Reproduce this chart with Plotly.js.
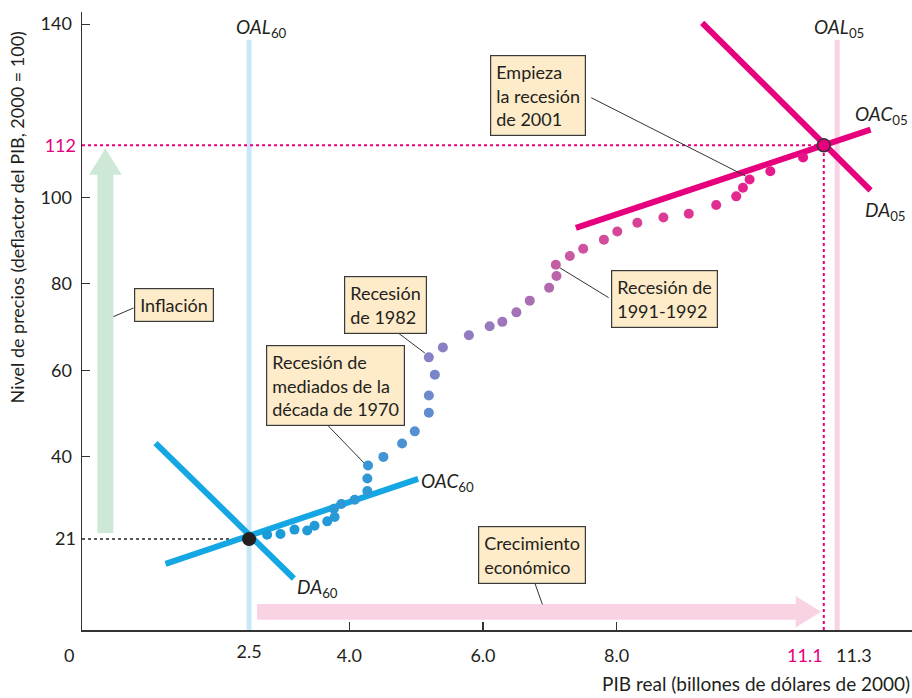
<!DOCTYPE html>
<html>
<head>
<meta charset="utf-8">
<script src="https://cdn.plot.ly/plotly-3.0.1.min.js"></script>
<style>html,body{margin:0;padding:0;background:#fff;}#chart{width:912px;height:698px;}</style>
</head>
<body>
<div id="chart"></div>
<script>
// ---- Data ----
// Path of the economy, real GDP (trillions of 2000 dollars) vs GDP deflator
var pathX = [2.77,2.97,3.18,3.37,3.48,3.67,3.78,3.77,3.88,4.08,4.27,4.27,4.28,4.51,4.79,4.98,5.19,5.19,5.28,5.19,5.40,5.79,6.10,6.29,6.50,6.70,6.99,7.10,7.09,7.30,7.50,7.81,8.01,8.31,8.70,9.08,9.49,9.79,9.89,9.99,10.30,10.79];
var pathY = [22.0,22.2,23.2,23.0,24.1,25.1,26.1,28.0,29.1,30.1,32.1,35.0,38.0,40.0,43.1,45.9,50.2,54.2,59.0,63.0,65.3,68.1,70.2,71.2,73.4,76.1,79.1,81.8,84.4,86.4,88.1,90.2,92.1,94.1,95.3,96.2,98.2,100.2,102.2,104.1,106.0,109.2];
var pathOrder = pathX.map(function(_, i){ return i; });

var start60 = {x: [2.5], y: [21]};
var end05 = {x: [11.1], y: [112]};

var da60X = [1.10, 3.17],  da60Y = [43.2, 11.9];
var oac60X = [1.25, 5.03], oac60Y = [15.3, 34.9];
var da05X = [9.28, 11.80], da05Y = [140.3, 101.6];
var oac05X = [7.39, 11.80], oac05Y = [92.9, 115.6];
var oal60X = [2.5, 2.5],   oal60Y = [0, 136.4];
var oal05X = [11.3, 11.3], oal05Y = [0, 136.4];

var xTickVals = [4, 6, 8], xTickText = ['4.0', '6.0', '8.0'];
var xSpecialVals = [2.5], xSpecialText = ['2.5'];
var yTickVals = [40, 60, 80, 100, 140], yTickText = ['40', '60', '80', '100', '140'];
var ySpecialVals = [21, 112], ySpecialText = ['21', '<span style="color:#e6007e">112</span>'];

// ---- Styles ----
var FONT = 'Lato, "Open Sans", sans-serif';
var TXT = '#231f20';
var BLUE = '#14a7e3';
var MAG = '#e6007e';
var X_MAX = 12.42, Y_MAX = 142.8;

var traces = [
  {x: oal60X, y: oal60Y, mode: 'lines', line: {color: '#c8e8f8', width: 5}, hoverinfo: 'skip'},
  {x: oal05X, y: oal05Y, mode: 'lines', line: {color: '#f9d3e4', width: 5}, hoverinfo: 'skip'},
  {x: [0, start60.x[0]], y: [start60.y[0], start60.y[0]], mode: 'lines', line: {color: '#222', width: 1.5, dash: 'dot'}, hoverinfo: 'skip'},
  {x: [0, end05.x[0]], y: [end05.y[0], end05.y[0]], mode: 'lines', line: {color: MAG, width: 2, dash: 'dot'}, hoverinfo: 'skip'},
  {x: [end05.x[0], end05.x[0]], y: [0, end05.y[0]], mode: 'lines', line: {color: MAG, width: 2, dash: 'dot'}, hoverinfo: 'skip'},
  {x: da60X, y: da60Y, mode: 'lines', line: {color: BLUE, width: 6}},
  {x: oac60X, y: oac60Y, mode: 'lines', line: {color: BLUE, width: 6}},
  {x: da05X, y: da05Y, mode: 'lines', line: {color: MAG, width: 6}},
  {x: oac05X, y: oac05Y, mode: 'lines', line: {color: MAG, width: 6}},
  {x: pathX, y: pathY, mode: 'markers',
   marker: {size: 10, color: pathOrder, cmin: 0, cmax: pathX.length - 1,
     colorscale: [[0,'#1a9bd9'],[0.28,'#3497d6'],[0.38,'#5a8fd0'],[0.46,'#8482c6'],[0.55,'#9a78bd'],[0.63,'#b06aaf'],[0.7,'#c95aa3'],[0.8,'#d84297'],[0.9,'#e32a8f'],[1,'#e8158a']],
     line: {width: 0}}},
  {x: start60.x, y: start60.y, mode: 'markers', marker: {size: 14, color: '#231f20'}},
  {x: end05.x, y: end05.y, mode: 'markers', marker: {size: 13, color: MAG, line: {color: '#333', width: 1.5}}},
  {x: [null], y: [null], xaxis: 'x2', yaxis: 'y2', mode: 'markers', hoverinfo: 'skip'}
];

// ---- Decorative arrows (shapes) ----
var infl = {cx: 0.35, y0: 22.4, yHead: 105.2, yTip: 111.3, half: 0.12, headHalf: 0.243};
var grow = {x0: 2.62, xHead: 10.68, xTip: 11.06, cy: 4.2, half: 1.81, headHalf: 3.65};
function p(x, y){ return x + ',' + y; }
var inflPath = 'M' + p(infl.cx - infl.half, infl.y0) + ' L' + p(infl.cx - infl.half, infl.yHead) +
  ' L' + p(infl.cx - infl.headHalf, infl.yHead) + ' L' + p(infl.cx, infl.yTip) +
  ' L' + p(infl.cx + infl.headHalf, infl.yHead) + ' L' + p(infl.cx + infl.half, infl.yHead) +
  ' L' + p(infl.cx + infl.half, infl.y0) + ' Z';
var growPath = 'M' + p(grow.x0, grow.cy - grow.half) + ' L' + p(grow.xHead, grow.cy - grow.half) +
  ' L' + p(grow.xHead, grow.cy - grow.headHalf) + ' L' + p(grow.xTip, grow.cy) +
  ' L' + p(grow.xHead, grow.cy + grow.headHalf) + ' L' + p(grow.xHead, grow.cy + grow.half) +
  ' L' + p(grow.x0, grow.cy + grow.half) + ' Z';

// Callout boxes: [text, centre x, centre y, leader from (x,y) to (x,y)]
var callouts = [
  ['Inflación', 1.38, 75.0, [0.77, 74.4, 0.47, 72.4]],
  ['Recesión de<br>mediados de la<br>década de 1970', 3.79, 56.6, [3.62, 48.2, 4.22, 38.6]],
  ['Recesión<br>de 1982', 4.54, 75.2, [4.70, 69.0, 5.13, 64.0]],
  ['Recesión de<br>1991-1992', 8.72, 76.4, [7.88, 76.8, 7.15, 83.7]],
  ['Empieza<br>la recesión<br>de 2001', 6.83, 123.6, [7.62, 123.0, 9.93, 104.9]],
  ['Crecimiento<br>económico', 6.73, 17.4, [6.77, 11.1, 6.89, 5.9]]
];

var shapes = [
  {type: 'path', xref: 'x', yref: 'y', path: inflPath, fillcolor: '#cde8d7', line: {width: 0}, layer: 'below'},
  {type: 'path', xref: 'x', yref: 'y', path: growPath, fillcolor: '#f9d3e4', line: {width: 0}, layer: 'below'}
];
var annotations = [];
callouts.forEach(function(c){
  var l = c[3];
  shapes.push({type: 'line', xref: 'x', yref: 'y', x0: l[0], y0: l[1], x1: l[2], y1: l[3], line: {color: '#333', width: 1}});
  annotations.push({x: c[1], y: c[2], xref: 'x', yref: 'y', text: c[0], showarrow: false, align: 'left',
    bgcolor: '#fdebc9', bordercolor: '#3a3a3a', borderwidth: 1.2, borderpad: 5,
    font: {family: FONT, size: 18, color: TXT}});
});

// Curve labels
var curveLabels = [
  ['<i>OAL</i><sub>60</sub>', 2.68, 139.2, 'center'],
  ['<i>OAL</i><sub>05</sub>', 11.33, 139.2, 'center'],
  ['<i>OAC</i><sub>60</sub>', 5.04, 34.3, 'left'],
  ['<i>DA</i><sub>60</sub>', 3.18, 9.8, 'left'],
  ['<i>OAC</i><sub>05</sub>', 11.54, 118.9, 'left'],
  ['<i>DA</i><sub>05</sub>', 11.69, 96.9, 'left']
];
curveLabels.forEach(function(c){
  annotations.push({x: c[1], y: c[2], xref: 'x', yref: 'y', text: c[0], showarrow: false, xanchor: c[3],
    font: {family: FONT, size: 19, color: TXT}});
});

// x labels at 11.1 and 11.3 (placed side by side, as in the reference)
var LBL_Y = -0.0405;
annotations.push({xref: 'x', yref: 'paper', x: 11.1, y: LBL_Y, xanchor: 'right', yanchor: 'middle', xshift: 1,
  text: '11.1', showarrow: false, font: {family: FONT, size: 18, color: MAG}});
annotations.push({xref: 'x', yref: 'paper', x: 11.3, y: LBL_Y, xanchor: 'left', yanchor: 'middle', xshift: -3,
  text: '11.3', showarrow: false, font: {family: FONT, size: 18, color: TXT}});

// Axis titles and the origin label
annotations.push({xref: 'paper', yref: 'paper', x: -0.078, y: 0.668, xanchor: 'center', yanchor: 'middle',
  text: 'Nivel de precios (deflactor del PIB, 2000 = 100)',
  textangle: -90, showarrow: false, font: {family: FONT, size: 18, color: TXT}});
annotations.push({xref: 'paper', yref: 'paper', x: 1, y: -0.086, xanchor: 'right', yanchor: 'middle',
  text: 'PIB real (billones de dólares de 2000)', showarrow: false, font: {family: FONT, size: 19, color: TXT}});
annotations.push({xref: 'paper', yref: 'paper', x: -0.016, y: LBL_Y, xanchor: 'center', yanchor: 'middle',
  text: '0', showarrow: false, font: {family: FONT, size: 18, color: TXT}});

var axisCommon = {showgrid: false, zeroline: false, fixedrange: true};
var tickFont = {family: FONT, size: 18, color: TXT};
var layout = {
  width: 912, height: 698,
  margin: {l: 82, r: 0, t: 12, b: 68},
  paper_bgcolor: '#ffffff', plot_bgcolor: 'rgba(0,0,0,0)',
  showlegend: false,
  font: {family: FONT, size: 17, color: TXT},
  xaxis: Object.assign({}, axisCommon, {range: [0, X_MAX], showline: true, linecolor: '#333', linewidth: 1.5,
    ticks: 'inside', ticklen: 8, tickwidth: 1.2, tickcolor: '#333', tickvals: xTickVals, ticktext: xTickText,
    tickangle: 0, ticklabelstandoff: 9, tickfont: tickFont}),
  yaxis: Object.assign({}, axisCommon, {range: [0, Y_MAX], showline: true, linecolor: '#333', linewidth: 1.5,
    ticks: 'inside', ticklen: 8, tickwidth: 1.2, tickcolor: '#333', tickvals: yTickVals, ticktext: yTickText,
    ticklabelstandoff: 5, tickfont: tickFont}),
  xaxis2: Object.assign({}, axisCommon, {range: [0, X_MAX], overlaying: 'x', anchor: 'y2', side: 'bottom', showline: false,
    ticks: '', tickvals: xSpecialVals, ticktext: xSpecialText, tickangle: 0, ticklabelstandoff: 9, tickfont: tickFont}),
  yaxis2: Object.assign({}, axisCommon, {range: [0, Y_MAX], overlaying: 'y', anchor: 'x2', side: 'left', showline: false,
    ticks: '', tickvals: ySpecialVals, ticktext: ySpecialText, ticklabelstandoff: 5, tickfont: tickFont}),
  shapes: shapes,
  annotations: annotations
};

Plotly.newPlot('chart', traces, layout, {staticPlot: true, displayModeBar: false});
</script>
</body>
</html>
